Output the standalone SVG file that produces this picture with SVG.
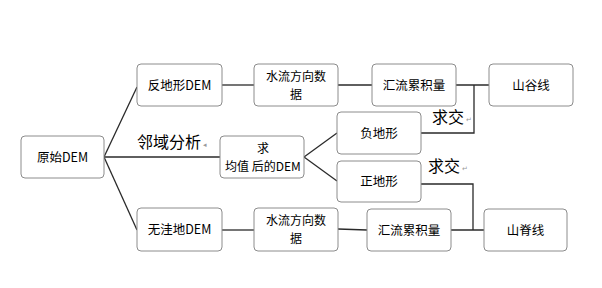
<svg xmlns="http://www.w3.org/2000/svg" width="602" height="288" viewBox="0 0 602 288">
<style>
.box{fill:#fff;stroke:#8c8c8c;stroke-width:1}
.t{font-family:"Noto Sans CJK SC","Liberation Sans",sans-serif;font-size:12.5px;fill:#000;text-anchor:middle}
.t2{font-family:"Noto Sans CJK SC","Liberation Sans",sans-serif;font-size:12px;fill:#000;text-anchor:middle}
.lbl{font-family:"Noto Sans CJK SC","Liberation Sans",sans-serif;font-size:16px;fill:#000}
.pm{font-family:"DejaVu Sans",sans-serif;font-size:7px;fill:#999}
.c{fill:none;stroke:#2a2a2a;stroke-width:1.3}
</style>
<rect width="602" height="288" fill="#fff"/>
<g id="connectors">
<path class="c" d="M104,157 L137,87"/>
<path class="c" d="M104,157 L220,157"/>
<path class="c" d="M104,157 L137,230"/>
<path class="c" d="M222,85 L254,85"/>
<path class="c" d="M338,85 L372,85"/>
<path class="c" d="M456,85 L489,85"/>
<path class="c" d="M474,85 L474,133 L421,133"/>
<path class="c" d="M304,157 L337,133"/>
<path class="c" d="M304,157 L337,181"/>
<path class="c" d="M421,184 L473,184 L473,230"/>
<path class="c" d="M222,230 L254,230"/>
<path class="c" d="M338,229 L367,230"/>
<path class="c" d="M451,230 L484,230"/>
</g>
<g id="labels">
<text class="lbl" x="137" y="148">邻域分析</text><text class="pm" x="203" y="147">◂</text>
<text class="lbl" x="432" y="123">求交</text><text class="pm" x="466" y="122">↵</text>
<text class="lbl" x="428" y="172">求交</text><text class="pm" x="462" y="171">↵</text>
</g>
<g id="n_yuanshi"><rect class="box" x="21" y="136" width="83" height="42" rx="4"/><text class="t" x="62.5" y="162">原始DEM</text></g>
<g id="n_fandixing"><rect class="box" x="137" y="64" width="85" height="42" rx="4"/><text class="t" x="179.5" y="90">反地形DEM</text></g>
<g id="n_shuiliu1"><rect class="box" x="254" y="64" width="84" height="42" rx="4"/><text class="t2" x="296" y="81">水流方向数</text><text class="t2" x="296" y="99">据</text></g>
<g id="n_huiliu1"><rect class="box" x="372" y="64" width="84" height="42" rx="4"/><text class="t" x="414" y="90">汇流累积量</text></g>
<g id="n_shangu"><rect class="box" x="489" y="64" width="84" height="42" rx="4"/><text class="t" x="531" y="90">山谷线</text></g>
<g id="n_qiujunzhi"><rect class="box" x="220" y="136" width="84" height="42" rx="4"/><text class="t2" x="263" y="153">求</text><text class="t2" x="263" y="171">均值 后的DEM</text></g>
<g id="n_fudixing"><rect class="box" x="337" y="112" width="84" height="42" rx="4"/><text class="t" x="379" y="138">负地形</text></g>
<g id="n_zhengdixing"><rect class="box" x="337" y="161" width="84" height="41" rx="4"/><text class="t" x="379" y="186">正地形</text></g>
<g id="n_wuwadi"><rect class="box" x="137" y="208" width="85" height="43" rx="4"/><text class="t" x="179.5" y="234">无洼地DEM</text></g>
<g id="n_shuiliu2"><rect class="box" x="254" y="208" width="84" height="43" rx="4"/><text class="t2" x="296" y="225">水流方向数</text><text class="t2" x="296" y="243">据</text></g>
<g id="n_huiliu2"><rect class="box" x="367" y="209" width="84" height="42" rx="4"/><text class="t" x="409" y="235">汇流累积量</text></g>
<g id="n_shanji"><rect class="box" x="484" y="209" width="83" height="42" rx="4"/><text class="t" x="525.5" y="235">山脊线</text></g>
</svg>
